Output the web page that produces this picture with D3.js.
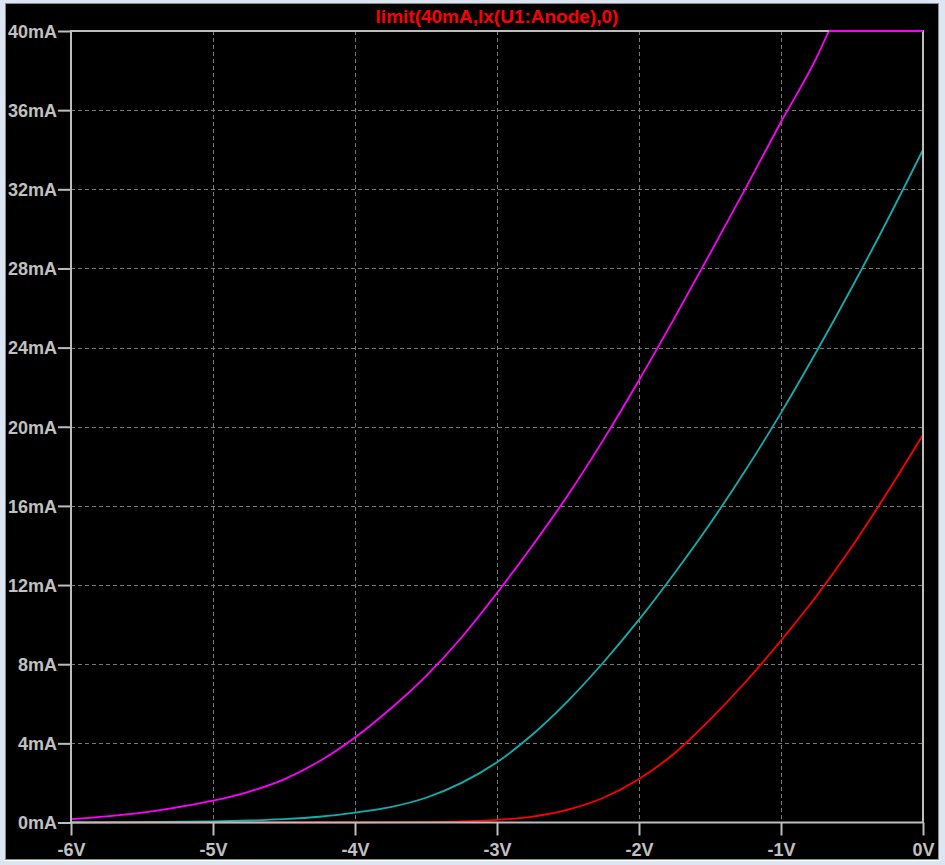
<!DOCTYPE html>
<html>
<head>
<meta charset="utf-8">
<script src="https://cdn.jsdelivr.net/npm/d3@7"></script>
<style>
  html, body { margin: 0; padding: 0; background: #dce6f2; }
  svg { display: block; }
  text { font-family: "Liberation Sans", Arial, sans-serif; font-weight: bold; }
</style>
</head>
<body>
<svg id="chart" width="945" height="865"></svg>
<script>
// ---- data ----
const titleText = "limit(40mA,Ix(U1:Anode),0)";
const xTicks = [-6, -5, -4, -3, -2, -1, 0];
const xTickLabels = ["-6V", "-5V", "-4V", "-3V", "-2V", "-1V", "0V"];
const yTicks = [0, 4, 8, 12, 16, 20, 24, 28, 32, 36, 40];
const yTickLabels = ["0mA", "4mA", "8mA", "12mA", "16mA", "20mA", "24mA", "28mA", "32mA", "36mA", "40mA"];

// grid voltage (V) vs limited anode current (mA)
const vRed     = [-6, -5, -4.5, -4, -3.5, -3.25, -3, -2.75, -2.5, -2.25, -2, -1.75, -1.5, -1.25, -1, -0.75, -0.5, -0.25, 0];
const iRed     = [0, 0, 0, 0, 0.02, 0.05, 0.13, 0.3, 0.65, 1.25, 2.2, 3.5, 5.2, 7.1, 9.2, 11.45, 13.95, 16.7, 19.6];

const vTeal    = [-6, -5.5, -5, -4.75, -4.5, -4.25, -4, -3.75, -3.5, -3.25, -3, -2.75, -2.5, -2.25, -2, -1.75, -1.5, -1.25, -1, -0.75, -0.5, -0.25, 0];
const iTeal    = [0, 0.02, 0.06, 0.1, 0.17, 0.29, 0.5, 0.78, 1.25, 2.0, 3.05, 4.45, 6.15, 8.1, 10.25, 12.6, 15.1, 17.8, 20.7, 23.8, 27.05, 30.45, 34.0];

const vMagenta = [-6, -5.75, -5.5, -5.25, -5, -4.75, -4.5, -4.25, -4, -3.75, -3.5, -3.25, -3, -2.75, -2.5, -2.25, -2, -1.75, -1.5, -1.25, -1, -0.75, -0.663, -0.5, 0];
const iMagenta = [0.17, 0.31, 0.5, 0.77, 1.1, 1.55, 2.18, 3.1, 4.3, 5.75, 7.4, 9.35, 11.6, 14.0, 16.55, 19.35, 22.35, 25.5, 28.75, 32.05, 35.4, 38.65, 40, 40, 40];
const currentLimit = 40;

const seriesColors = ["#ff0000", "#10b0b0", "#ff00ff"];

// ---- drawing ----
const svg = d3.select("#chart");

// sunken panel
svg.append("rect").attr("x", 5.5).attr("y", 3.5).attr("width", 933).attr("height", 856)
  .attr("fill", "#000").attr("stroke", "#8a8a8a").attr("stroke-width", 1);
svg.append("line").attr("x1", 5).attr("x2", 940).attr("y1", 860.5).attr("y2", 860.5)
  .attr("stroke", "#ffffff").attr("stroke-width", 1);

const x = d3.scaleLinear().domain([-6, 0]).range([71, 923]);
const y = d3.scaleLinear().domain([0, 40]).range([822.5, 31]);

const gridColor = "#7a7a7a";
const frameColor = "#bdbdbd";
const labelColor = "#c0c0c0";

// grid
const g = svg.append("g");
g.selectAll("line.vg").data(xTicks.filter(v => v > -6 && v < 0)).enter().append("line")
  .attr("x1", d => Math.round(x(d)) + 0.5).attr("x2", d => Math.round(x(d)) + 0.5)
  .attr("y1", y(40)).attr("y2", y(0))
  .attr("stroke", gridColor).attr("stroke-width", 1).attr("stroke-dasharray", "4,3");
g.selectAll("line.hg").data(yTicks.filter(v => v > 0 && v < 40)).enter().append("line")
  .attr("x1", x(-6)).attr("x2", x(0))
  .attr("y1", d => Math.round(y(d)) + 0.5).attr("y2", d => Math.round(y(d)) + 0.5)
  .attr("stroke", gridColor).attr("stroke-width", 1).attr("stroke-dasharray", "4,3");

// traces
const smooth = d3.line().x(d => x(d[0])).y(d => y(d[1])).curve(d3.curveMonotoneX);
const straight = d3.line().x(d => x(d[0])).y(d => y(d[1]));

const magPts = d3.zip(vMagenta, iMagenta);
const clipIdx = magPts.findIndex(d => d[1] >= currentLimit);
const magRise = magPts.slice(0, clipIdx + 1);
const magFlat = magPts.slice(clipIdx);

const tg = svg.append("g").attr("fill", "none").attr("stroke-width", 1.8).attr("stroke-linejoin", "round");
tg.append("path").attr("d", smooth(d3.zip(vRed, iRed))).attr("stroke", seriesColors[0]);
tg.append("path").attr("d", smooth(d3.zip(vTeal, iTeal))).attr("stroke", seriesColors[1]);
tg.append("path").attr("d", smooth(magRise)).attr("stroke", seriesColors[2]);

// frame
svg.append("rect").attr("x", x(-6)).attr("y", y(40))
  .attr("width", x(0) - x(-6)).attr("height", y(0) - y(40))
  .attr("fill", "none").attr("stroke", frameColor).attr("stroke-width", 2);

// clipped (limited) magenta segment drawn over the frame, as in the reference
svg.append("path").attr("d", straight(magFlat))
  .attr("fill", "none").attr("stroke", seriesColors[2]).attr("stroke-width", 2);

// axes
const xAxis = d3.axisBottom(x).tickValues(xTicks)
  .tickFormat((d, i) => xTickLabels[i]).tickSize(13).tickPadding(4);
const gx = svg.append("g").attr("transform", `translate(0,${y(0)})`).call(xAxis);
gx.select(".domain").remove();
gx.selectAll(".tick line").attr("stroke", frameColor).attr("stroke-width", 2);
gx.selectAll(".tick text").attr("fill", labelColor).attr("font-size", 18)
  .attr("font-family", "'Liberation Sans', Arial, sans-serif").attr("font-weight", "bold")
  .attr("dy", "0.9em");

const yAxis = d3.axisLeft(y).tickValues(yTicks)
  .tickFormat((d, i) => yTickLabels[i]).tickSize(13).tickPadding(1);
const gy = svg.append("g").attr("transform", `translate(${x(-6)},0)`).call(yAxis);
gy.select(".domain").remove();
gy.selectAll(".tick line").attr("stroke", frameColor).attr("stroke-width", 2);
gy.selectAll(".tick text").attr("fill", labelColor).attr("font-size", 18)
  .attr("font-family", "'Liberation Sans', Arial, sans-serif").attr("font-weight", "bold")
  .attr("dy", "0.35em");

// title
svg.append("text").attr("x", (x(-6) + x(0)) / 2).attr("y", 23)
  .attr("text-anchor", "middle").attr("fill", "#ff0000")
  .attr("font-size", 19).text(titleText);
</script>
</body>
</html>
